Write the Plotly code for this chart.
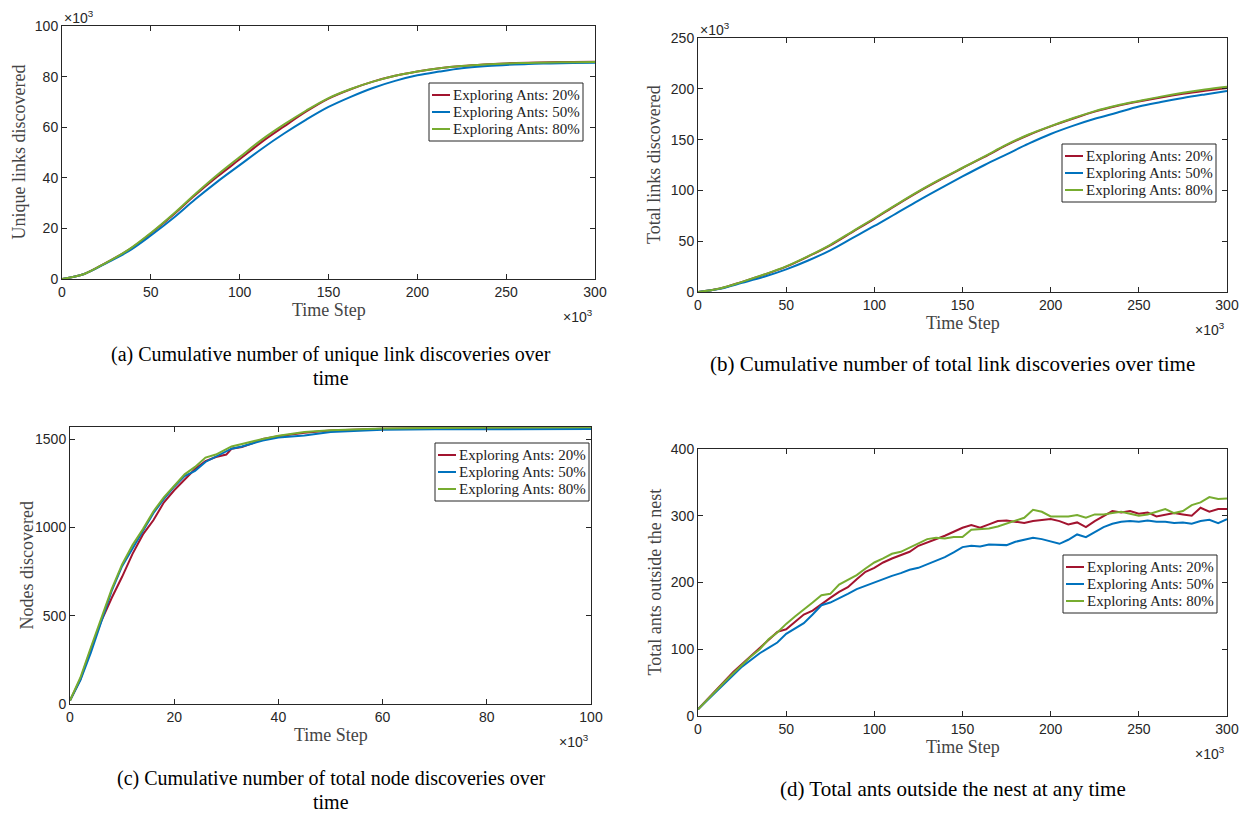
import plotly.graph_objects as go

# ---------------- data ----------------
series_names = ["Exploring Ants: 20%", "Exploring Ants: 50%", "Exploring Ants: 80%"]
colors = ["#A2142F", "#0072BD", "#77AC30"]

# (a) unique links discovered (x10^3) vs time step (x10^3)
ta = [0, 12.5, 25, 37.5, 50, 62.5, 75, 87.5, 100, 112.5, 125, 137.5, 150, 162.5, 175,
      187.5, 200, 212.5, 225, 237.5, 250, 262.5, 275, 287.5, 300]
a_20 = [0, 2, 6.5, 11.5, 18, 25.3, 33.2, 40.5, 47.3, 54.2, 60.3, 66.2, 71.3, 75, 78,
        80.3, 82, 83.3, 84.2, 84.8, 85.2, 85.5, 85.7, 85.8, 85.9]
a_50 = [0, 2, 6.3, 11, 17.2, 24, 31.5, 38.5, 45, 51.5, 57.5, 63, 68, 72, 75.5,
        78.3, 80.5, 82, 83.3, 84.1, 84.6, 85, 85.2, 85.4, 85.5]
a_80 = [0, 2, 6.5, 11.6, 18.2, 25.6, 33.6, 41.2, 48.2, 55.1, 61.1, 66.6, 71.5, 75.1, 78,
        80.3, 82, 83.3, 84.2, 84.8, 85.2, 85.4, 85.6, 85.7, 85.8]

# (b) total links discovered (x10^3)
tb = [0, 12.5, 25, 37.5, 50, 62.5, 75, 87.5, 100, 112.5, 125, 137.5, 150, 162.5, 175,
      187.5, 200, 212.5, 225, 237.5, 250, 262.5, 275, 287.5, 300]
b_20 = [0, 3.5, 10, 17, 25, 35, 46, 59, 72, 85.5, 98.5, 110.5, 122, 133, 144.5,
        154.5, 163, 170.5, 177.5, 183, 187.5, 191.5, 195, 198, 200.7]
b_50 = [0, 3.2, 9, 15, 22.3, 31, 41, 53, 65, 77.5, 90, 102, 113.7, 125, 135.5,
        146, 155.5, 163.5, 170.5, 176.5, 182.6, 187, 191, 194.5, 197.8]
b_80 = [0, 3.5, 10, 17.2, 25.2, 35.3, 46.5, 59.5, 72.6, 86, 99, 111, 122.3, 133.5, 145,
        155, 163.3, 171, 178, 183.5, 188, 192.3, 196, 199.2, 202]

# (c) nodes discovered vs time step (x10^3)
tc = [0, 2, 4, 6, 8, 10, 12, 14, 16, 18, 20, 22, 24, 26, 28, 30, 31, 33, 35, 37, 40,
      45, 50, 60, 70, 80, 90, 100]
c_20 = [20, 140, 310, 470, 600, 720, 850, 960, 1040, 1140, 1210, 1270, 1330, 1375, 1398, 1412,
        1445, 1455, 1475, 1500, 1515, 1535, 1548, 1558, 1562, 1564, 1565, 1565]
c_50 = [20, 135, 290, 470, 640, 780, 880, 985, 1080, 1160, 1230, 1290, 1320, 1370, 1400, 1430,
        1445, 1458, 1475, 1492, 1508, 1520, 1540, 1553, 1555, 1556, 1557, 1557]
c_80 = [20, 150, 320, 490, 650, 790, 900, 990, 1090, 1170, 1232, 1300, 1342, 1395, 1412, 1440,
        1458, 1472, 1488, 1500, 1518, 1540, 1550, 1560, 1563, 1565, 1566, 1567]

# (d) total ants outside the nest vs time step (x10^3)
td = list(range(0, 301, 5))
d_20 = [10, 24, 38, 52, 66, 78, 90, 101, 113, 126, 130, 141, 152, 158, 168, 177, 186, 193, 205, 216,
        222, 230, 236, 241, 246, 255, 260, 264, 270, 276, 282, 286, 282, 287, 292, 293, 291, 289, 292, 294,
        295, 292, 287, 290, 283, 292, 300, 307, 305, 307, 303, 305, 299, 301, 304, 302, 300, 312, 306, 310, 310]
d_50 = [10, 23, 36, 49, 61, 74, 84, 94, 102, 110, 123, 131, 139, 152, 166, 170, 176, 183, 190, 195,
        200, 206, 210, 214, 219, 222, 227, 233, 238, 245, 253, 255, 254, 257, 257, 256, 261, 264, 267, 265,
        262, 258, 264, 272, 268, 276, 283, 288, 291, 292, 291, 293, 291, 291, 289, 290, 288, 292, 294, 289, 295]
d_80 = [10, 24, 38, 51, 64, 77, 89, 100, 115, 125, 138, 149, 159, 170, 181, 183, 197, 204, 211, 221,
        230, 236, 243, 246, 252, 259, 265, 267, 266, 268, 268, 279, 280, 281, 284, 288, 293, 297, 309, 306,
        299, 299, 299, 301, 297, 302, 302, 304, 306, 303, 300, 302, 306, 310, 304, 307, 316, 320, 328, 325, 326]

panels = [
    dict(t=ta, ys=[a_20, a_50, a_80], shape="spline"),
    dict(t=tb, ys=[b_20, b_50, b_80], shape="spline"),
    dict(t=tc, ys=[c_20, c_50, c_80], shape="linear"),
    dict(t=td, ys=[d_20, d_50, d_80], shape="linear"),
]

# ---------------- layout geometry ----------------
W, H = 1248, 813
def px(x):
    return x / W
def py(y):
    return 1 - y / H

boxes = [  # left, right, top, bottom in window pixels
    (62, 595, 26, 279),
    (698, 1227, 38, 292),
    (70, 591, 427, 704),
    (698, 1227, 449, 716),
]
xranges = [[0, 300], [0, 300], [0, 100], [0, 300]]
yranges = [[0, 100], [0, 250], [0, 1568], [0, 400]]
xticks = [[0, 50, 100, 150, 200, 250, 300]] * 2 + [[0, 20, 40, 60, 80, 100], [0, 50, 100, 150, 200, 250, 300]]
yticks = [[0, 20, 40, 60, 80, 100], [0, 50, 100, 150, 200, 250], [0, 500, 1000, 1500], [0, 100, 200, 300, 400]]
ytitles = ["Unique links discovered", "Total links discovered", "Nodes discovered", "Total ants outside the nest"]
captions = [
    ["(a) Cumulative number of unique link discoveries over", "time"],
    ["(b) Cumulative number of total link discoveries over time"],
    ["(c) Cumulative number of total node discoveries over", "time"],
    ["(d) Total ants outside the nest at any time"],
]
caption_pos = [(331, 354), (953, 364), (331, 778), (953, 789)]
caption_size = [20, 21, 20, 21]
CAP_LINE = 24
# legend box: right edge, first row centre (window px)
legend_pos = [(583, 95), (1216, 156), (589, 455), (1217, 567)]
LEG_W, ROW = 154, 17
top_exp = [True, True, False, False]

fig = go.Figure()
axis_color = "#262626"
serif = "Liberation Serif"
sans = "Liberation Sans"
shapes = []

def ann(x, y, text, font, xanchor="center", yanchor="middle", angle=0):
    fig.add_annotation(x=px(x), y=py(y), xref="paper", yref="paper", text=text,
                       showarrow=False, xanchor=xanchor, yanchor=yanchor, textangle=angle,
                       font=font)

for i, p in enumerate(panels):
    n = "" if i == 0 else str(i + 1)
    for k in range(3):
        fig.add_trace(go.Scatter(
            x=p["t"], y=p["ys"][k], mode="lines", name=series_names[k],
            line=dict(color=colors[k], width=2, shape=p["shape"]),
            xaxis="x" + n, yaxis="y" + n, showlegend=False,
        ))
    l, r, t, b = boxes[i]
    common = dict(showgrid=False, zeroline=False, showline=True, linecolor=axis_color, linewidth=1,
                  mirror="ticks", ticks="inside", ticklen=5, tickcolor=axis_color, automargin=False,
                  tickfont=dict(family=sans, size=14, color=axis_color))
    fig.update_layout(**{
        "xaxis" + n: dict(domain=[px(l), px(r)], range=xranges[i], tickvals=xticks[i],
                          anchor="y" + n, **common),
        "yaxis" + n: dict(domain=[py(b), py(t)], range=yranges[i], tickvals=yticks[i],
                          anchor="x" + n, **common),
    })
    # axis titles
    ann((l + r) / 2, b + 31, "Time Step", dict(family=serif, size=18, color="#444"))
    ann(l - 44, (t + b) / 2, ytitles[i], dict(family=serif, size=18, color="#444"), angle=-90)
    # exponent labels
    ann(r, b + 37, "×10<sup>3</sup>", dict(family=sans, size=14, color=axis_color), xanchor="right")
    if top_exp[i]:
        ann(l, t - 9, "×10<sup>3</sup>", dict(family=sans, size=14, color=axis_color), xanchor="left")
    # caption
    cx, cy = caption_pos[i]
    for j, line in enumerate(captions[i]):
        ann(cx, cy + j * CAP_LINE, line, dict(family=serif, size=caption_size[i], color="black"))
    # legend (drawn as a boxed key)
    lr, ly = legend_pos[i]
    ll = lr - LEG_W
    shapes.append(dict(type="rect", xref="paper", yref="paper",
                       x0=px(ll), x1=px(lr), y0=py(ly - 12), y1=py(ly + 2 * ROW + 12),
                       line=dict(color=axis_color, width=1), fillcolor="white", layer="above"))
    for k in range(3):
        yy = ly + k * ROW
        shapes.append(dict(type="line", xref="paper", yref="paper",
                           x0=px(ll + 3), x1=px(ll + 21), y0=py(yy), y1=py(yy),
                           line=dict(color=colors[k], width=2), layer="above"))
        ann(ll + 22, yy, series_names[k], dict(family=serif, size=15, color="#222"), xanchor="left")

fig.update_layout(width=W, height=H, margin=dict(l=0, r=0, t=0, b=0, autoexpand=False),
                  paper_bgcolor="white", plot_bgcolor="white", shapes=shapes, showlegend=False)
# remove the default 8px page margin so the 1248x813 figure fills the window exactly
fig.write_html("out.html", config={"displayModeBar": False},
               post_script="document.body.style.margin='0';document.body.style.overflow='hidden';")
